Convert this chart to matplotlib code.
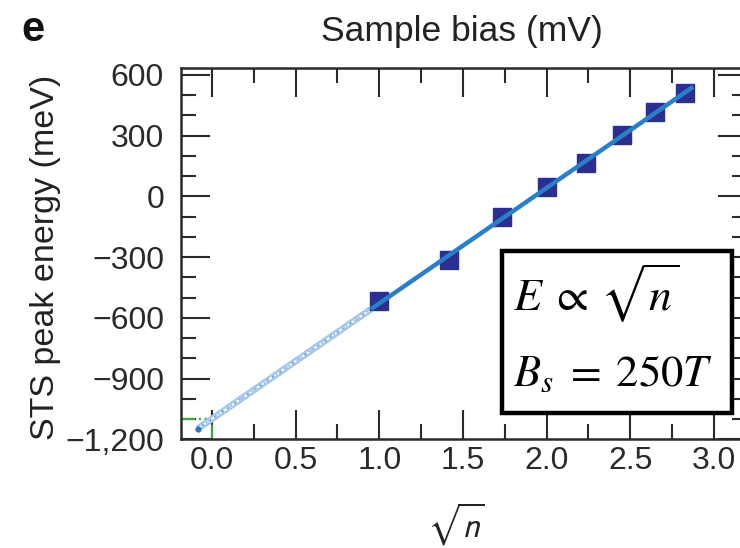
import numpy as np
import matplotlib
matplotlib.use("Agg")
import matplotlib.pyplot as plt
from matplotlib.patches import Rectangle
from matplotlib.ticker import MultipleLocator, FuncFormatter

# ---- data ----
sqrt_n = [1.0, 1.414, 1.732, 2.0, 2.236, 2.449, 2.646, 2.828]
peak_energy = [-518, -316, -100, 48, 165, 303, 416, 510]
fit_solid_range = [0.95, 2.875]
fit_extrap_range = [-0.084, 0.95]
x_ticks = [0.0, 0.5, 1.0, 1.5, 2.0, 2.5, 3.0]
y_ticks = [600, 300, 0, -300, -600, -900, -1200]
box_lines = [r"$E\;\propto\,\sqrt{n}$", r"$B_s\;=\;250T$"]

plt.rcParams['font.family'] = ['Liberation Sans', 'DejaVu Sans']
plt.rcParams['axes.unicode_minus'] = True

W, H = 740, 548
fig = plt.figure(figsize=(W / 100, H / 100), dpi=100)
ax_left, ax_right, ax_bottom, ax_top = 180.7, 747.0, 439.3, 68.3
ax = fig.add_axes([ax_left / W, 1 - ax_bottom / H, (ax_right - ax_left) / W,
                   (ax_bottom - ax_top) / H])
ax.set_xlim(-0.187, 3.198)
ax.set_ylim(-1200, 633)

# fit
slope, intercept = np.polyfit(sqrt_n, peak_energy, 1)
xs = np.linspace(*fit_solid_range, 50)
xe = np.linspace(*fit_extrap_range, 50)

# extrapolated (hatched-looking) line
ax.plot(xe, slope * xe + intercept, color='#a3c6ea', lw=4.8, solid_capstyle='butt', zorder=3)
ax.plot(xe, slope * xe + intercept, color='white', lw=1.4, ls=(0, (2.5, 1.5)), zorder=4)
ax.plot(xe, slope * xe + intercept, color='#4a8ad0', lw=0.9, ls=(0, (1, 3)), zorder=4)
ax.plot([fit_extrap_range[0]], [slope * fit_extrap_range[0] + intercept], 'o',
        color='#2f74c0', ms=3.5, zorder=5)

# green markers of intercept
ax.plot([ax.get_xlim()[0], 0.0], [intercept, intercept], color='#3fa34d', lw=1.6,
        ls='-.', zorder=2)
ax.plot([0.0, 0.0], [ax.get_ylim()[0], intercept], color='#3fa34d', lw=1.6,
        ls='-.', zorder=2)

# squares
ax.plot(sqrt_n, peak_energy, 's', color='#2b2f8f', ms=13, mec='#2b2f8f', zorder=5)
# solid fit line
ax.plot(xs, slope * xs + intercept, color='#2a80c8', lw=3.2, solid_capstyle='butt', zorder=6)

# ticks
ax.set_xticks(x_ticks)
ax.xaxis.set_minor_locator(MultipleLocator(0.25))
ax.xaxis.set_major_formatter(FuncFormatter(lambda v, p: f"{v:.1f}"))
ax.set_yticks(y_ticks)
ax.yaxis.set_minor_locator(MultipleLocator(100))
ax.yaxis.set_major_formatter(FuncFormatter(lambda v, p: f"{v:,.0f}".replace('-', '\u2212')))

ax.tick_params(which='both', direction='in', top=True, right=True, colors='#2a2a2a',
               width=1.5)
ax.tick_params(which='major', length=21, labelsize=23)
ax.tick_params(which='minor', length=10.5)
ax.tick_params(axis='x', which='major', pad=5)
ax.tick_params(axis='y', which='major', pad=12)
for sp in ax.spines.values():
    sp.set_linewidth(1.8)
    sp.set_color('#2a2a2a')

# text box
ax.add_patch(Rectangle((1.732, -1069), 3.106 - 1.732, -272 - (-1069), facecolor='white',
                       edgecolor='black', lw=3.2, zorder=10))
ax.text(1.80, -567, box_lines[0], fontsize=33, math_fontfamily='stix', va='baseline',
        ha='left', zorder=11)
ax.text(1.80, -936, box_lines[1], fontsize=32, math_fontfamily='stix', va='baseline',
        ha='left', zorder=11)

# labels
fig.text(462 / W, 1 - 31 / H, 'Sample bias (mV)', ha='center', va='center', fontsize=25.5,
         color='#222222')
fig.text(33 / W, 1 - 30 / H, 'e', ha='center', va='center', fontsize=30, weight='bold',
         color='#111111')
fig.text(46 / W, 1 - 257 / H, 'STS peak energy (meV)', ha='center', va='center',
         rotation=90, fontsize=24.5, color='#222222')
fig.text(456 / W, 1 - 524 / H, r'$\sqrt{n}$', ha='center', va='center', fontsize=24,
         math_fontfamily='stixsans', color='#222222')

fig.savefig('out.png', dpi=100)
